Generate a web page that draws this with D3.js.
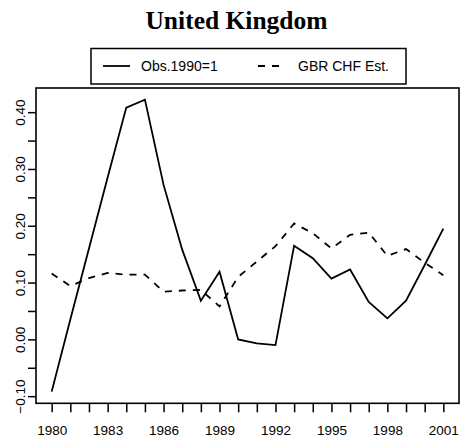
<!DOCTYPE html>
<html>
<head>
<meta charset="utf-8">
<script src="https://cdn.jsdelivr.net/npm/d3@7"></script>
<style>
  html, body { margin: 0; padding: 0; background: #fff; }
  svg { display: block; }
</style>
</head>
<body>
<svg id="chart" width="460" height="441"></svg>
<script>
// ---- data ----
const years = [1980,1981,1982,1983,1984,1985,1986,1987,1988,1989,1990,1991,1992,1993,1994,1995,1996,1997,1998,1999,2000,2001];
const obsValues = [-0.092,0.035,0.160,0.285,0.408,0.422,0.272,0.158,0.068,0.119,0.000,-0.007,-0.010,0.165,0.143,0.107,0.123,0.066,0.037,0.068,0.131,0.195];
const estValues = [0.116,0.094,0.108,0.117,0.114,0.114,0.084,0.086,0.087,0.058,0.110,0.137,0.164,0.204,0.187,0.160,0.184,0.188,0.147,0.159,0.135,0.113];
const seriesNames = ["Obs.1990=1", "GBR CHF Est."];
const xTickYears = years;
const xLabelYears = [1980,1983,1986,1989,1992,1995,1998,2001];
const yTickValues = [-0.10,-0.05,0.00,0.05,0.10,0.15,0.20,0.25,0.30,0.35,0.40];
const yLabelValues = [-0.10,0.00,0.10,0.20,0.30,0.40];
const title = "United Kingdom";

// ---- layout ----
const svg = d3.select("#chart");
const box = {left: 36, right: 459, top: 88, bottom: 403.3};

const xExt = d3.extent(years);
const xPad = (xExt[1] - xExt[0]) * 0.04;
const x = d3.scaleLinear().domain([xExt[0] - xPad, xExt[1] + xPad]).range([box.left, box.right]);

const allVals = obsValues.concat(estValues);
const yExt = d3.extent(allVals);
const yPad = (yExt[1] - yExt[0]) * 0.04;
const y = d3.scaleLinear().domain([yExt[0] - yPad, yExt[1] + yPad]).range([box.bottom, box.top]);

const font = "'Liberation Sans', Arial, sans-serif";

// title
svg.append("text")
  .attr("x", 236.5).attr("y", 29)
  .attr("text-anchor", "middle")
  .attr("font-family", "'Liberation Serif', 'Times New Roman', serif")
  .attr("font-weight", "bold")
  .attr("font-size", 25.5)
  .text(title);

// lines
const line = d3.line().x((d, i) => x(years[i])).y(d => y(d));
svg.append("path").datum(obsValues)
  .attr("d", line).attr("fill", "none").attr("stroke", "#000")
  .attr("stroke-width", 1.8).attr("stroke-linejoin", "miter");
svg.append("path").datum(estValues)
  .attr("d", line).attr("fill", "none").attr("stroke", "#000")
  .attr("stroke-width", 1.8).attr("stroke-dasharray", "7,7");

// frame
svg.append("rect")
  .attr("x", box.left).attr("y", box.top)
  .attr("width", box.right - box.left).attr("height", box.bottom - box.top)
  .attr("fill", "none").attr("stroke", "#000").attr("stroke-width", 1.6);

// x axis
const xAxis = d3.axisBottom(x)
  .tickValues(xTickYears)
  .tickSize(9)
  .tickFormat(d => xLabelYears.includes(d) ? String(d) : "");
const gx = svg.append("g").attr("transform", `translate(0,${box.bottom})`).call(xAxis);
gx.select(".domain").remove();
gx.selectAll(".tick line").attr("stroke", "#000").attr("stroke-width", 1.5);
gx.selectAll(".tick text")
  .attr("y", 22).attr("dy", "0.71em")
  .attr("font-family", font).attr("font-size", 13.5).attr("fill", "#000");

// y axis
const yAxis = d3.axisLeft(y)
  .tickValues(yTickValues)
  .tickSize(8)
  .tickFormat(d => yLabelValues.some(v => Math.abs(v - d) < 1e-9) ? d3.format(".2f")(d) : "");
const gy = svg.append("g").attr("transform", `translate(${box.left},0)`).call(yAxis);
gy.select(".domain").remove();
gy.selectAll(".tick line").attr("stroke", "#000").attr("stroke-width", 1.5);
gy.selectAll(".tick text")
  .attr("x", null).attr("dy", null)
  .attr("transform", "translate(-11,0) rotate(-90)")
  .attr("text-anchor", "middle")
  .attr("font-family", font).attr("font-size", 13.5).attr("fill", "#000");

// legend
const lg = svg.append("g");
lg.append("rect").attr("x", 91).attr("y", 48.5).attr("width", 315).attr("height", 35.5)
  .attr("fill", "#fff").attr("stroke", "#000").attr("stroke-width", 1.5);
const legendItems = [
  {name: seriesNames[0], x1: 103, x2: 130, tx: 141, dash: null},
  {name: seriesNames[1], x1: 258, x2: 281, tx: 298, dash: "7,7"}
];
legendItems.forEach(it => {
  lg.append("line").attr("x1", it.x1).attr("x2", it.x2).attr("y1", 66).attr("y2", 66)
    .attr("stroke", "#000").attr("stroke-width", 1.8)
    .attr("stroke-dasharray", it.dash);
  lg.append("text").attr("x", it.tx).attr("y", 71)
    .attr("font-family", font).attr("font-size", 14).attr("fill", "#000")
    .text(it.name);
});
</script>
</body>
</html>
